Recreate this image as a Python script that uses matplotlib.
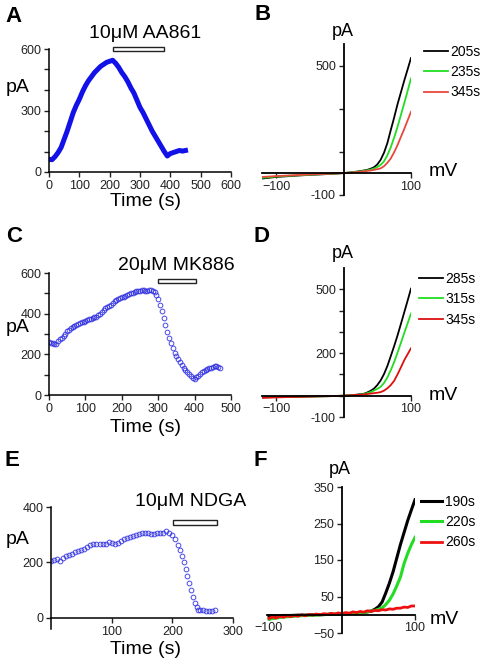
import matplotlib
matplotlib.use('Agg')
import matplotlib.pyplot as plt
from matplotlib.patches import Rectangle

plt.rcParams['font.family'] = ['Liberation Sans', 'DejaVu Sans']

# ---------------- data ----------------
# Panel A: current vs time (AA861)
a_time = [0, 10, 20, 30, 40, 50, 60, 70, 80, 90, 100, 110, 120, 130, 140, 150, 160, 170,
          180, 190, 200, 210, 220, 230, 240, 250, 260, 270, 280, 290, 300, 310, 320, 330,
          340, 350, 360, 370, 380, 390, 400, 410, 420, 430, 440, 450]
a_curr = [62, 60, 75, 95, 120, 160, 200, 245, 290, 325, 355, 390, 420, 445, 465, 485, 500, 515,
          525, 535, 540, 545, 530, 510, 485, 465, 440, 410, 385, 350, 315, 290, 260, 230,
          200, 175, 150, 125, 100, 78, 90, 95, 100, 105, 102, 105]

# Panel C: current vs time (MK886)
c_time = [0, 5, 10, 15, 20, 25, 30, 35, 40, 45, 50, 55, 60, 65, 70, 75, 80, 85, 90, 95,
          100, 105, 110, 115, 120, 125, 130, 135, 140, 145, 150, 155, 160, 165, 170, 175,
          180, 185, 190, 195, 200, 205, 210, 215, 220, 225, 230, 235, 240, 245, 250, 255,
          260, 265, 270, 275, 280, 285, 290, 295, 300, 305, 310, 315, 320, 325, 330, 335,
          340, 345, 350, 355, 360, 365, 370, 375, 380, 385, 390, 395, 400, 405, 410, 415,
          420, 425, 430, 435, 440, 445, 450, 455, 460, 465, 470]
c_curr = [262, 258, 255, 250, 252, 265, 275, 282, 290, 302, 315, 322, 330, 335, 340, 345,
          350, 353, 358, 358, 362, 368, 372, 375, 380, 382, 385, 392, 400, 410, 420, 426,
          432, 438, 445, 452, 460, 465, 470, 475, 480, 484, 488, 492, 495, 500, 503, 507,
          510, 511, 512, 514, 515, 513, 512, 514, 515, 512, 505, 492, 470, 445, 415, 380,
          345, 310, 280, 255, 230, 208, 190, 175, 160, 147, 135, 125, 115, 104, 95, 86,
          80, 88, 95, 105, 115, 120, 125, 128, 132, 135, 138, 142, 145, 140, 135]

# Panel E: current vs time (NDGA)
e_time = [0, 5, 10, 15, 20, 25, 30, 35, 40, 45, 50, 55, 60, 65, 70, 75, 80, 85, 90, 95, 100,
          105, 110, 115, 120, 125, 130, 135, 140, 145, 150, 155, 160, 165, 170, 175, 180, 185,
          190, 195, 200, 205, 210, 213, 216, 219, 222, 225, 228, 231, 234, 237, 240, 243, 246,
          250, 255, 260, 265, 270]
e_curr = [205, 210, 212, 205, 215, 222, 228, 232, 238, 240, 245, 250, 255, 262, 268, 268, 265,
          266, 268, 275, 270, 268, 270, 278, 285, 290, 293, 297, 300, 302, 305, 308, 305, 303,
          303, 305, 305, 308, 312, 308, 298, 285, 262, 245, 225, 200, 178, 150, 125, 100, 75,
          55, 38, 30, 28, 27, 25, 26, 25, 28]

# Panel B: I-V curves
b_volt = [-120, -100, -80, -60, -40, -20, 0, 10, 20, 30, 35, 40, 45, 50, 55, 60, 65, 70, 75,
          80, 85, 90, 95, 100]
b_205 = [-25, -18, -14, -10, -7, -4, 0, 3, 7, 12, 15, 20, 27, 40, 62, 95, 140, 200, 258,
         320, 375, 430, 482, 535]
b_235 = [-22, -16, -12, -9, -6, -3, 0, 3, 6, 10, 13, 16, 21, 28, 38, 55, 83, 120, 165,
         215, 270, 325, 382, 440]
b_345 = [-18, -14, -11, -8, -5, -3, 0, 2, 5, 8, 10, 12, 15, 18, 22, 32, 48, 68, 97,
         130, 168, 205, 245, 285]
b_labels = ['205s', '235s', '345s']

# Panel D: I-V curves
d_volt = [-120, -100, -80, -60, -40, -20, 0, 10, 20, 30, 35, 40, 45, 50, 55, 60, 65, 70, 75,
          80, 85, 90, 95, 100]
d_285 = [-8, -6, -5, -4, -3, -2, 0, 2, 5, 9, 15, 23, 33, 50, 72, 102, 140, 186, 233,
         283, 337, 392, 447, 503]
d_315 = [-7, -6, -5, -4, -3, -2, 0, 2, 4, 8, 12, 17, 24, 32, 42, 60, 86, 120, 158,
         202, 248, 295, 340, 386]
d_345 = [-10, -8, -6, -5, -3, -2, 0, 2, 4, 6, 8, 10, 12, 14, 17, 24, 35, 50, 70,
         100, 133, 167, 195, 223]
d_labels = ['285s', '315s', '345s']

# Panel F: I-V curves
f_volt = [-100, -90, -80, -70, -60, -50, -40, -30, -20, -10, 0, 10, 20, 30, 35, 40, 45, 50,
          55, 60, 65, 70, 75, 80, 85, 90, 95, 100]
f_190 = [-3, -3, -2, -2, -1, -1, 0, 0, 1, 1, 2, 3, 4, 6, 8, 10, 15, 22, 35, 60, 87, 118,
         155, 192, 225, 258, 287, 315]
f_220 = [-12, -9, -6, -5, -3, -2, -1, 0, 1, 2, 3, 4, 5, 6, 8, 10, 12, 15, 19, 28, 40, 57,
         79, 103, 140, 168, 192, 212]
f_volt_red = [-100, -95, -90, -85, -80, -75, -70, -65, -60, -55, -50, -45, -40, -35, -30, -25,
              -20, -15, -10, -5, 0, 5, 10, 15, 20, 25, 30, 35, 40, 45, 50, 55, 60, 65, 70,
              75, 80, 85, 90, 95, 100]
f_260 = [-10, -6, -9, -4, -7, -3, -5, -2, -4, 0, -3, 1, -1, 2, 0, 3, 1, 4, 2, 5, 3, 6, 4, 8,
         6, 9, 7, 11, 9, 12, 11, 14, 13, 16, 15, 18, 18, 21, 20, 24, 24]
f_labels = ['190s', '220s', '260s']

# ---------------- figure ----------------
W, H = 489, 664
fig = plt.figure(figsize=(W / 100, H / 100), dpi=100)


def fx(px):
    return px / W


def fy(py):
    return 1 - py / H


def box(l, t, r, b):
    return [l / W, 1 - b / H, (r - l) / W, (b - t) / H]


BLUE = '#1212e8'
CBLUE = '#2a2ae0'
GREEN = '#22dd22'
TICKFS = 9


def style_time_axes(ax):
    for s in ['top', 'right']:
        ax.spines[s].set_visible(False)
    for s in ['left', 'bottom']:
        ax.spines[s].set_linewidth(1.1)
    ax.tick_params(which='both', length=3.5, width=1, labelsize=TICKFS, pad=2, colors='#222222')
    ax.tick_params(which='minor', length=3.5)


def style_iv_axes(ax):
    for s in ['top', 'right']:
        ax.spines[s].set_visible(False)
    ax.spines['left'].set_position(('data', 0))
    ax.spines['bottom'].set_position(('data', 0))
    for s in ['left', 'bottom']:
        ax.spines[s].set_linewidth(1.3)
    ax.tick_params(length=3.5, width=1, labelsize=TICKFS, pad=2, colors='#222222')


# ---- Panel A ----
axA = fig.add_axes(box(49, 49, 231, 172))
axA.plot(a_time, a_curr, color=BLUE, lw=3.6, solid_joinstyle='round')
axA.set_xlim(0, 600)
axA.set_ylim(0, 600)
axA.set_xticks([0, 100, 200, 300, 400, 500, 600])
axA.set_yticks([0, 300, 600])
axA.set_yticks([100, 200, 400, 500], minor=True)
style_time_axes(axA)
axA.add_patch(Rectangle((211, 590), 168, 20, facecolor='white', edgecolor='#222222',
                        lw=1, clip_on=False))
fig.text(fx(145), fy(33), '10\u03bcM AA861', ha='center', va='center', fontsize=14)
fig.text(fx(18), fy(87), 'pA', ha='center', va='center', fontsize=14)
fig.text(fx(146), fy(201), 'Time (s)', ha='center', va='center', fontsize=14)

# ---- Panel C ----
axC = fig.add_axes(box(49, 273, 231, 395))
axC.plot(c_time, c_curr, ls='none', marker='o', ms=3.4, mfc='none', mec=CBLUE, mew=0.7,
         alpha=0.85)
axC.set_xlim(0, 500)
axC.set_ylim(0, 600)
axC.set_xticks([0, 100, 200, 300, 400, 500])
axC.set_yticks([0, 200, 400, 600])
axC.set_yticks([100, 300, 500], minor=True)
style_time_axes(axC)
axC.add_patch(Rectangle((299, 550), 105, 20, facecolor='white', edgecolor='#222222',
                        lw=1, clip_on=False))
fig.text(fx(176), fy(266), '20\u03bcM MK886', ha='center', va='center', fontsize=14)
fig.text(fx(18), fy(328), 'pA', ha='center', va='center', fontsize=14)
fig.text(fx(145), fy(428), 'Time (s)', ha='center', va='center', fontsize=14)

# ---- Panel E ----
axE = fig.add_axes(box(51, 507, 233, 629))
axE.plot(e_time, e_curr, ls='none', marker='o', ms=3.4, mfc='none', mec=CBLUE, mew=0.7,
         alpha=0.85)
axE.set_xlim(0, 300)
axE.set_ylim(-40, 400)
axE.spines['bottom'].set_position(('data', 0))
axE.set_xticks([100, 200, 300])
axE.set_yticks([0, 200, 400])
style_time_axes(axE)
axE.add_patch(Rectangle((201, 335), 73, 18, facecolor='white', edgecolor='#222222',
                        lw=1, clip_on=False))
fig.text(fx(191), fy(501), '10\u03bcM NDGA', ha='center', va='center', fontsize=14)
fig.text(fx(18), fy(540), 'pA', ha='center', va='center', fontsize=14)
fig.text(fx(146), fy(650), 'Time (s)', ha='center', va='center', fontsize=14)

# ---- Panel B ----
axB = fig.add_axes(box(262, 44, 411, 194.6))
axB.plot(b_volt, b_205, color='black', lw=1.3, label=b_labels[0])
axB.plot(b_volt, b_235, color=GREEN, lw=1.3, label=b_labels[1])
axB.plot(b_volt, b_345, color='#e8473d', lw=1.3, label=b_labels[2])
axB.set_xlim(-121, 100)
axB.set_ylim(-100, 600)
style_iv_axes(axB)
axB.set_xticks([-100, 100])
axB.set_yticks([-100, 100, 300, 500])
axB.set_yticklabels(['-100', '', '', '500'])
axB.legend(loc='upper left', bbox_to_anchor=(fx(424), fy(45)), bbox_transform=fig.transFigure,
           frameon=False, fontsize=10, handlelength=1.7, handletextpad=0.2,
           labelspacing=0.45, borderpad=0, borderaxespad=0)
fig.text(fx(343), fy(32), 'pA', ha='center', va='center', fontsize=13)
fig.text(fx(443), fy(172), 'mV', ha='center', va='center', fontsize=14)

# ---- Panel D ----
axD = fig.add_axes(box(262, 268, 411, 417))
axD.plot(d_volt, d_285, color='black', lw=1.3, label=d_labels[0])
axD.plot(d_volt, d_315, color=GREEN, lw=1.3, label=d_labels[1])
axD.plot(d_volt, d_345, color='#dd1010', lw=1.3, label=d_labels[2])
axD.set_xlim(-121, 100)
axD.set_ylim(-100, 600)
style_iv_axes(axD)
axD.set_xticks([-100, 100])
axD.set_yticks([-100, 0, 100, 200, 300, 400, 500])
axD.set_yticklabels(['-100', '', '', '200', '', '', '500'])
axD.legend(loc='upper left', bbox_to_anchor=(fx(419), fy(272)), bbox_transform=fig.transFigure,
           frameon=False, fontsize=10, handlelength=1.7, handletextpad=0.2,
           labelspacing=0.45, borderpad=0, borderaxespad=0)
fig.text(fx(343), fy(253), 'pA', ha='center', va='center', fontsize=13)
fig.text(fx(443), fy(396), 'mV', ha='center', va='center', fontsize=14)

# ---- Panel F ----
axF = fig.add_axes(box(267.5, 487, 415, 633))
axF.plot(f_volt, f_190, color='black', lw=2.2, label=f_labels[0])
axF.plot(f_volt, f_220, color=GREEN, lw=2.2, label=f_labels[1])
axF.plot(f_volt_red, f_260, color='#ee1010', lw=2.0, label=f_labels[2])
axF.set_xlim(-102, 100)
axF.set_ylim(-50, 350)
style_iv_axes(axF)
axF.set_xticks([-100, 100])
axF.set_yticks([-50, 50, 150, 250, 350])
axF.legend(loc='upper left', bbox_to_anchor=(fx(421), fy(495)), bbox_transform=fig.transFigure,
           frameon=False, fontsize=10, handlelength=1.5, handletextpad=0.25,
           labelspacing=0.45, borderpad=0, borderaxespad=0)
fig.text(fx(340), fy(470), 'pA', ha='center', va='center', fontsize=13)
fig.text(fx(444), fy(620), 'mV', ha='center', va='center', fontsize=14)

# ---- Panel letters ----
for letter, x, y in [('A', 14, 16), ('B', 263, 15), ('C', 14, 236), ('D', 262, 236),
                     ('E', 12, 461), ('F', 260, 460)]:
    fig.text(fx(x), fy(y), letter, ha='center', va='center', fontsize=16, fontweight='bold')

fig.savefig('out.png', dpi=100)
